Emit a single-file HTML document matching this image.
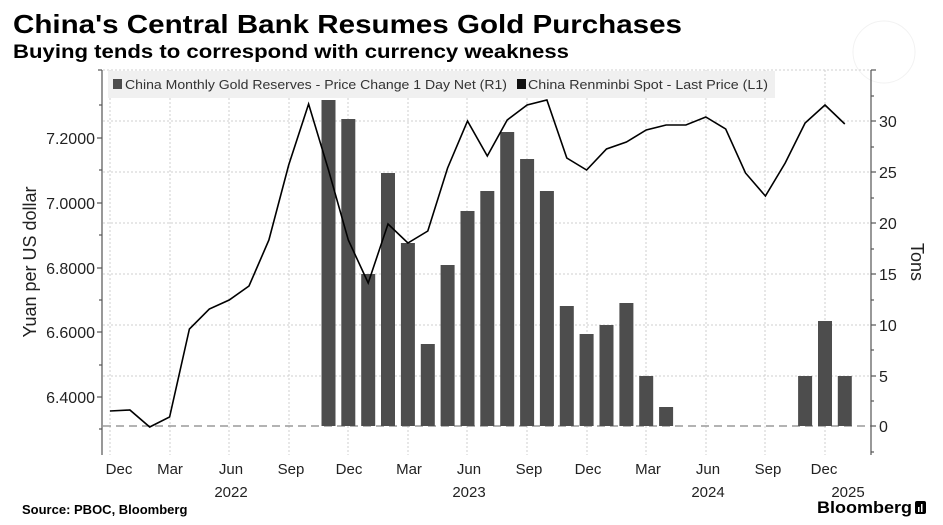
<!DOCTYPE html>
<html><head><meta charset="utf-8"><style>
body{margin:0;background:#fff;}
svg{display:block;font-family:"Liberation Sans",sans-serif;}
</style></head><body>
<svg width="943" height="525" viewBox="0 0 943 525" xmlns="http://www.w3.org/2000/svg">
<text x="13" y="33" font-size="26" font-weight="bold" fill="#000" textLength="669" lengthAdjust="spacingAndGlyphs">China's Central Bank Resumes Gold Purchases</text>
<text x="13" y="58" font-size="19" font-weight="bold" fill="#000" textLength="556" lengthAdjust="spacingAndGlyphs">Buying tends to correspond with currency weakness</text>
<circle cx="884" cy="52" r="31" fill="none" stroke="#f2f2f2" stroke-width="1"/>
<!-- grid -->
<g stroke="#cfcfcf" stroke-width="1" stroke-dasharray="2,2">
<line x1="103" y1="70" x2="871" y2="70"/>
<line x1="103" y1="121" x2="871" y2="121"/>
<line x1="103" y1="172" x2="871" y2="172"/>
<line x1="103" y1="223" x2="871" y2="223"/>
<line x1="103" y1="274" x2="871" y2="274"/>
<line x1="103" y1="325" x2="871" y2="325"/>
<line x1="103" y1="376" x2="871" y2="376"/>
<line x1="110" y1="70" x2="110" y2="455"/>
<line x1="170" y1="70" x2="170" y2="455"/>
<line x1="229" y1="70" x2="229" y2="455"/>
<line x1="289" y1="70" x2="289" y2="455"/>
<line x1="348" y1="70" x2="348" y2="455"/>
<line x1="408" y1="70" x2="408" y2="455"/>
<line x1="467" y1="70" x2="467" y2="455"/>
<line x1="527" y1="70" x2="527" y2="455"/>
<line x1="587" y1="70" x2="587" y2="455"/>
<line x1="646" y1="70" x2="646" y2="455"/>
<line x1="706" y1="70" x2="706" y2="455"/>
<line x1="765" y1="70" x2="765" y2="455"/>
<line x1="825" y1="70" x2="825" y2="455"/>
</g>
<line x1="103" y1="426" x2="871" y2="426" stroke="#9a9a9a" stroke-width="1.5" stroke-dasharray="8,5"/>
<!-- legend -->
<rect x="108" y="71" width="667" height="27" fill="#f0f0f0"/>
<rect x="113" y="79" width="9" height="10" fill="#4d4d4d"/>
<text x="125" y="89" font-size="12.5" fill="#333" textLength="382" lengthAdjust="spacingAndGlyphs">China Monthly Gold Reserves - Price Change 1 Day Net (R1)</text>
<rect x="517" y="79" width="9" height="10" fill="#111"/>
<text x="528" y="89" font-size="12.5" fill="#333" textLength="240" lengthAdjust="spacingAndGlyphs">China Renminbi Spot - Last Price (L1)</text>
<!-- bars -->
<g fill="#4d4d4d">
<rect x="321.5" y="100" width="14" height="326"/>
<rect x="341.3" y="119" width="14" height="307"/>
<rect x="361.2" y="274" width="14" height="152"/>
<rect x="381" y="173" width="14" height="253"/>
<rect x="400.9" y="243" width="14" height="183"/>
<rect x="420.8" y="344" width="14" height="82"/>
<rect x="440.6" y="265" width="14" height="161"/>
<rect x="460.5" y="211" width="14" height="215"/>
<rect x="480.3" y="191" width="14" height="235"/>
<rect x="500.2" y="132" width="14" height="294"/>
<rect x="520.1" y="159" width="14" height="267"/>
<rect x="539.9" y="191" width="14" height="235"/>
<rect x="559.8" y="306" width="14" height="120"/>
<rect x="579.6" y="334" width="14" height="92"/>
<rect x="599.5" y="325" width="14" height="101"/>
<rect x="619.4" y="303" width="14" height="123"/>
<rect x="639.2" y="376" width="14" height="50"/>
<rect x="659.1" y="407" width="14" height="19"/>
<rect x="798.1" y="376" width="14" height="50"/>
<rect x="818" y="321" width="14" height="105"/>
<rect x="837.8" y="376" width="14" height="50"/>
</g>
<!-- line -->
<polyline fill="none" stroke="#000" stroke-width="1.6" stroke-linejoin="miter" points="110,411 129.9,410 149.7,427 169.6,417 189.4,329 209.3,309 229.2,300 249,286 268.9,240 288.7,165 308.6,104 328.5,170 348.3,240 368.2,283 388,224 407.9,243 427.8,231 447.6,168 467.5,121 487.3,156 507.2,120 527.1,105 546.9,100 566.8,158 586.6,170 606.5,149 626.4,142 646.2,130 666.1,125 685.9,125 705.8,117 725.7,129 745.5,173 765.4,196 785.2,163 805.1,123 825,105 844.8,124"/>
<!-- axes -->
<g stroke="#555" stroke-width="1.2">
<line x1="102" y1="70" x2="102" y2="455"/>
<line x1="871" y1="70" x2="871" y2="455"/>
<line x1="98" y1="70" x2="102" y2="70"/>
<line x1="97" y1="138" x2="102" y2="138"/>
<line x1="97" y1="203" x2="102" y2="203"/>
<line x1="97" y1="268" x2="102" y2="268"/>
<line x1="97" y1="332" x2="102" y2="332"/>
<line x1="97" y1="397" x2="102" y2="397"/>
<line x1="99" y1="105" x2="102" y2="105"/>
<line x1="99" y1="170" x2="102" y2="170"/>
<line x1="99" y1="235" x2="102" y2="235"/>
<line x1="99" y1="300" x2="102" y2="300"/>
<line x1="99" y1="365" x2="102" y2="365"/>
<line x1="99" y1="429" x2="102" y2="429"/>
<line x1="871" y1="70" x2="876" y2="70"/>
<line x1="871" y1="121" x2="876" y2="121"/>
<line x1="871" y1="223" x2="876" y2="223"/>
<line x1="871" y1="325" x2="876" y2="325"/>
<line x1="871" y1="426" x2="876" y2="426"/>
<line x1="871" y1="96" x2="874" y2="96"/>
<line x1="871" y1="147" x2="874" y2="147"/>
<line x1="871" y1="172" x2="876" y2="172"/>
<line x1="871" y1="198" x2="874" y2="198"/>
<line x1="871" y1="249" x2="874" y2="249"/>
<line x1="871" y1="274" x2="876" y2="274"/>
<line x1="871" y1="300" x2="874" y2="300"/>
<line x1="871" y1="350" x2="874" y2="350"/>
<line x1="871" y1="376" x2="876" y2="376"/>
<line x1="871" y1="401" x2="874" y2="401"/>
<line x1="871" y1="452" x2="874" y2="452"/>
</g>
<g font-size="16" fill="#222" text-anchor="end">
<text x="95" y="144">7.2000</text>
<text x="95" y="209">7.0000</text>
<text x="95" y="274">6.8000</text>
<text x="95" y="338">6.6000</text>
<text x="95" y="403">6.4000</text>
</g>
<g font-size="16" fill="#222">
<text x="879" y="127">30</text>
<text x="879" y="178">25</text>
<text x="879" y="229">20</text>
<text x="879" y="280">15</text>
<text x="879" y="331">10</text>
<text x="879" y="382">5</text>
<text x="879" y="432">0</text>
</g>
<text transform="translate(36,262) rotate(-90)" font-size="18" fill="#222" text-anchor="middle">Yuan per US dollar</text>
<text transform="translate(911,262) rotate(90)" font-size="18" fill="#222" text-anchor="middle">Tons</text>
<g font-size="15" fill="#222" text-anchor="middle">
<text x="119" y="474">Dec</text>
<text x="170" y="474">Mar</text>
<text x="231" y="474">Jun</text>
<text x="291" y="474">Sep</text>
<text x="349" y="474">Dec</text>
<text x="409" y="474">Mar</text>
<text x="469" y="474">Jun</text>
<text x="529" y="474">Sep</text>
<text x="588" y="474">Dec</text>
<text x="648" y="474">Mar</text>
<text x="708" y="474">Jun</text>
<text x="768" y="474">Sep</text>
<text x="824" y="474">Dec</text>
<text x="231" y="497">2022</text>
<text x="469" y="497">2023</text>
<text x="708" y="497">2024</text>
<text x="848" y="497">2025</text>
</g>
<text x="22" y="514" font-size="13" font-weight="bold" fill="#000">Source: PBOC, Bloomberg</text>
<text x="817" y="513" font-size="17" font-weight="bold" fill="#000" textLength="95" lengthAdjust="spacingAndGlyphs">Bloomberg</text>
<rect x="915" y="501" width="11" height="13" rx="2" fill="#000"/>
<rect x="918" y="507" width="1.5" height="5" fill="#fff"/><rect x="921" y="504" width="1.5" height="8" fill="#fff"/>
</svg>
</body></html>
